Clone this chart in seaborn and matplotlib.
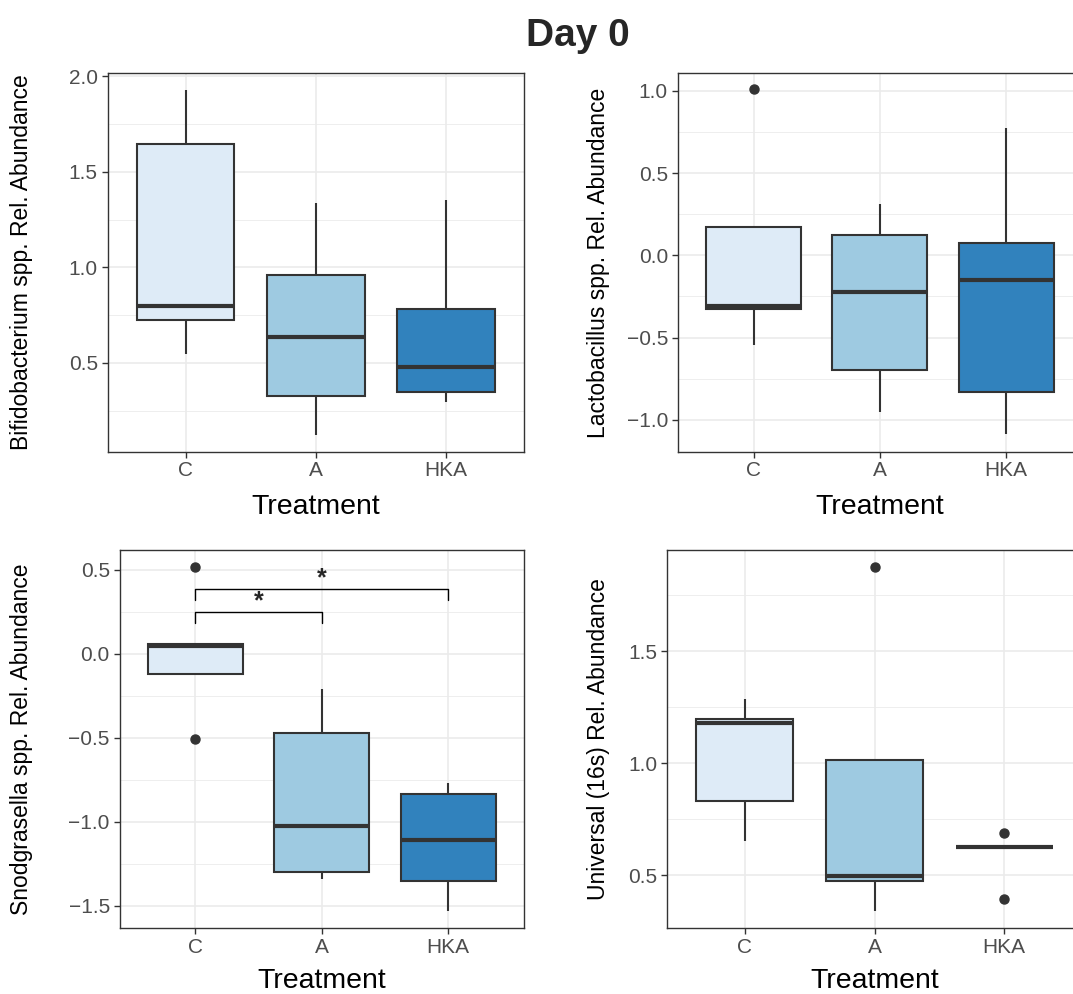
import seaborn as sns
import matplotlib.pyplot as plt
import matplotlib.ticker as mticker
import pandas as pd

# Data: values (5 samples per treatment)
treatments = ['C', 'A', 'HKA']
box_colors = ['#DEEBF7', '#9ECAE1', '#3182BD']

bifido_C = [0.545, 0.724, 0.80, 1.646, 1.928]
bifido_A = [0.122, 0.328, 0.633, 0.96, 1.339]
bifido_HKA = [0.293, 0.349, 0.48, 0.784, 1.353]

lacto_C = [-0.543, -0.326, -0.31, 0.172, 1.01]
lacto_A = [-0.953, -0.698, -0.223, 0.121, 0.314]
lacto_HKA = [-1.089, -0.83, -0.148, 0.077, 0.773]

snod_C = [-0.506, -0.119, 0.045, 0.06, 0.52]
snod_A = [-1.34, -1.30, -1.022, -0.472, -0.21]
snod_HKA = [-1.53, -1.35, -1.107, -0.835, -0.769]

univ_C = [0.654, 0.832, 1.181, 1.196, 1.286]
univ_A = [0.34, 0.476, 0.495, 1.015, 1.875]
univ_HKA = [0.396, 0.626, 0.626, 0.626, 0.688]

# significance brackets on the Snodgrasella panel: (group1, group2, y, label)
snod_sig = [('C', 'A', 0.25, '*'), ('C', 'HKA', 0.385, '*')]

W, H = 1073, 994


def px_box(left, right, top, bottom):
    return [left / W, 1 - bottom / H, (right - left) / W, (bottom - top) / H]


panels = [
    dict(vals=[bifido_C, bifido_A, bifido_HKA],
         ylabel='Bifidobacterium spp. Rel. Abundance',
         pos=px_box(107.5, 524, 72.7, 451.7), ylim=(0.035, 2.019),
         major=[0.5, 1.0, 1.5, 2.0], minor=[0.25, 0.75, 1.25, 1.75],
         ylab_x=-0.178, xlab_y=-0.1645),
    dict(vals=[lacto_C, lacto_A, lacto_HKA],
         ylabel='Lactobacillus spp. Rel. Abundance',
         pos=px_box(677.7, 1082, 73.3, 451.7), ylim=(-1.194, 1.107),
         major=[-1.0, -0.5, 0.0, 0.5, 1.0], minor=[-0.75, -0.25, 0.25, 0.75],
         ylab_x=-0.168, xlab_y=-0.1645),
    dict(vals=[snod_C, snod_A, snod_HKA],
         ylabel='Snodgrasella spp. Rel. Abundance',
         pos=px_box(119.5, 524, 550, 928.3), ylim=(-1.633, 0.619),
         major=[-1.5, -1.0, -0.5, 0.0, 0.5], minor=[-1.25, -0.75, -0.25, 0.25],
         ylab_x=-0.2146, xlab_y=-0.157, sig=snod_sig),
    dict(vals=[univ_C, univ_A, univ_HKA],
         ylabel='Universal (16s) Rel. Abundance',
         pos=px_box(667, 1082, 550, 928.3), ylim=(0.263, 1.952),
         major=[0.5, 1.0, 1.5], minor=[0.75, 1.25, 1.75],
         ylab_x=-0.138, xlab_y=-0.157),
]

sns.set_style("ticks")
plt.rcParams['font.family'] = ['Liberation Sans', 'DejaVu Sans']

fig = plt.figure(figsize=(W / 100, H / 100), dpi=100)

dark = '#333333'
for p in panels:
    ax = fig.add_axes(p['pos'])
    rows = []
    for t, v in zip(treatments, p['vals']):
        for x in v:
            rows.append({'Treatment': t, 'value': x})
    df = pd.DataFrame(rows)

    sns.boxplot(data=df, x='Treatment', y='value', hue='Treatment',
                order=treatments, hue_order=treatments, palette=box_colors,
                saturation=1, width=0.75, linecolor=dark, linewidth=1.5,
                fliersize=6.5, legend=False, ax=ax, showcaps=False,
                flierprops=dict(marker='o', markerfacecolor=dark,
                                markeredgecolor=dark),
                medianprops=dict(linewidth=3.0, color=dark))

    ax.set_xlim(-0.6, 2.6)
    ax.set_ylim(*p['ylim'])
    ax.set_yticks(p['major'])
    ax.set_yticks(p['minor'], minor=True)
    ax.yaxis.set_major_formatter(mticker.FuncFormatter(
        lambda v, pos: f'{v:.1f}'.replace('-', '\u2212')))

    ax.set_axisbelow(True)
    ax.grid(which='major', color='#EBEBEB', linewidth=1.2)
    ax.grid(which='minor', axis='y', color='#EBEBEB', linewidth=0.6)
    for s in ax.spines.values():
        s.set_visible(True)
        s.set_color(dark)
        s.set_linewidth(1.0)
    ax.tick_params(which='major', direction='out', length=4, width=1,
                   color=dark, labelcolor='#4D4D4D', labelsize=15, pad=3)
    ax.tick_params(which='minor', length=0)

    ax.set_xlabel('Treatment', fontsize=20.5, color='black')
    ax.xaxis.label.set_va('baseline')
    ax.xaxis.set_label_coords(0.5, p['xlab_y'])
    ax.set_ylabel(p['ylabel'], fontsize=16.5, color='black')
    ax.yaxis.set_label_coords(p['ylab_x'], 0.5)

    for g1, g2, y, lab in p.get('sig', []):
        x1, x2 = treatments.index(g1), treatments.index(g2)
        tip = 0.065
        ax.plot([x1, x1, x2, x2], [y - tip, y, y, y - tip],
                color='black', linewidth=1.0)
        ax.text((x1 + x2) / 2, y - 0.005, lab, ha='center', va='bottom',
                fontsize=18, fontweight='bold')

fig.text(0.5382, 1 - 45.7 / H, 'Day 0', ha='center', va='baseline',
         fontsize=28, fontweight='bold')

plt.savefig('out.png', dpi=100)
